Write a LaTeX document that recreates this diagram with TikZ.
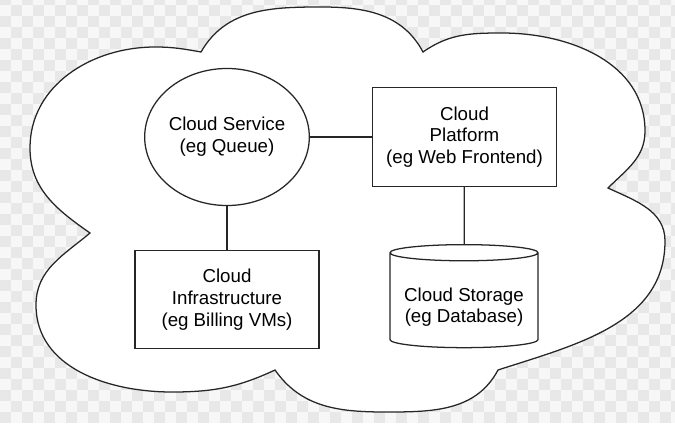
\documentclass[tikz,border=0pt]{standalone}
\usepackage{fontspec}
\setmainfont{Liberation Sans}
\usetikzlibrary{shapes.geometric}

\begin{document}
\begin{tikzpicture}[x=0.025cm, y=0.025cm, line width=0.9pt,
  every node/.style={font=\fontsize{13.3}{15.5}\selectfont, align=center, inner sep=0pt},
  part/.style={draw=black!85, fill=white, rectangle, minimum width=4.6cm, minimum height=2.46cm},
  bgcheck/.style={fill=black!9}]
  \useasboundingbox (0,0) rectangle (675,423);
  \begin{scope}
    \clip (0,0) rectangle (675,423);
    \fill[black!3] (0,0) rectangle (675,423);
    \foreach \i in {0,2,...,60}
      \foreach \j in {0,2,...,38} {
        \fill[bgcheck] (\i*11,\j*11) rectangle ++(11,11);
        \fill[bgcheck] (\i*11+11,\j*11+11) rectangle ++(11,11);
      }
  \end{scope}
  % the cloud
  \draw[black!85, fill=white] (201,371) to[out=60,in=180] (322,416) to[out=0,in=118] (423,371)
    to[out=35,in=180] (502,390) to[out=0,in=90] (645,292) to[out=-90,in=45] (608,235)
    to[out=-25,in=90] (665,182) to[out=-90,in=18] (498,53)
    to[out=-118,in=0] (386,11) to[out=180,in=-55] (275,53)
    to[out=-155,in=0] (172,31) to[out=180,in=-90] (36,118) to[out=90,in=-140] (90,190)
    to[out=145,in=-90] (30,275) to[out=90,in=180] (155,376) to[out=0,in=170] cycle;
  \node[draw=black!85, fill=white, ellipse, minimum width=3.725cm, minimum height=3.425cm] (service) at (227,286) {Cloud Service\\(eg Queue)};
  \node[part] (platform) at (464.5,286) {Cloud\\Platform\\(eg Web Frontend)};
  \node[part] (infra) at (227,123.5) {Cloud\\Infrastructure\\(eg Billing VMs)};
  \node[draw=black!85, fill=white, cylinder, shape border rotate=90, aspect=0.135,
        minimum width=3.7cm, minimum height=2.575cm] (storage) at (464,122.5) {\rule{0pt}{19pt}Cloud Storage\\(eg Database)};
  \draw[black!85] (service) -- (platform);
  \draw[black!85] (service) -- (infra);
  \draw[black!85] (platform) -- (storage);
\end{tikzpicture}
\end{document}
